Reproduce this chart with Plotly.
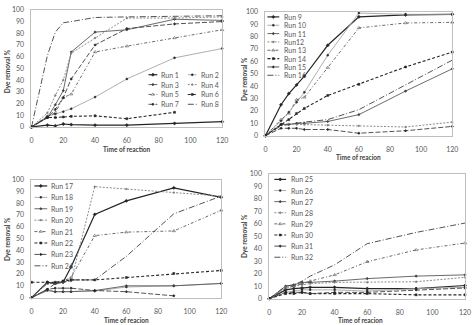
import plotly.graph_objects as go

# ---------------- data ----------------
times = [0, 10, 15, 20, 25, 40, 60, 90, 120]

run_1 = [0, 1.5, 1, 2.5, 2, 1.5, 1.5, 3, 4.5]
run_2 = [0, 9, 11, 13, 15.5, 25.5, 41, 59, 67]
run_3 = [0, 8, 19, 31, 64, 81, 83, 92, 91]
run_4 = [0, 12, 27, 40, 63, 76, 93, 93, 94]
run_5 = [0, 9, 12, 25, 28, 64, 69, 76, 83]
run_6 = [0, 8, 8, 8.5, 9, 9.5, 7, 12.5, None]
run_7 = [0, 8, 15, 25, 41, 70, 84, 88, 90]
run_8 = [0, 61, 81, 89, 90, 93.5, 94, 94.5, 95]

run_9 = [0, 25, 34, 41, 48, 73, 96, 97.5, 98]
run_10 = [0, 12, 19, 27, 35, 65, 99, 98, 98]
run_11 = [0, 9, 9, 10, 10, 11.5, 17, 36, 54]
run_12 = [0, 9.5, 9.5, 9, 9, 8.5, 8, 7, 11]
run_13 = [0, 13, 18, 29, 31, 55, 87, 91, 91.5]
run_14 = [0, 9, 13, 18, 22, 32.5, 41.5, 55.5, 67.5]
run_15 = [0, 6, 6, 6, 5, 5, 2, 4, 7.5]
run_16 = [0, 8, 9, 10, 11, 13, 21, 41, 61]

run_17 = [0, 13, 12, 13, 26, 70.5, 82, 93, 85]
run_18 = [0, 7, 5, 5, 5, 5.5, 9, 10, 12]
run_19 = [0, 6, 5, 5, 5, 6, 10, 10, 12]
run_20 = [0, 12, 12, 13, 14, 94, 92, 89, 86]
run_21 = [0, 12, 12, 14, 17, 52.5, 55.5, 56.5, 74]
run_22 = [13, 13, 13, 14, 15, 15, 17, 20.5, 23]
run_23 = [0, 7, 8, 8, 8, 6, 5, 1.5, None]
run_24 = [0, 7, 12, 13, 15, 15, 35, 71, 86]

run_25 = [0, 7, 8, 8.5, 9, 9, 8, 8, 10.5]
run_26 = [0, 5, 6, 7, 7, 7, 6, 8, 9]
run_27 = [0, 10, 11, 13, 13, 14, 16, 18, 19]
run_28 = [0, 9, 10, 11, 12, 13, 13, 13.5, 17]
run_29 = [0, 8, 10, 12, 14, 19, 29.5, 39, 44.5]
run_30 = [0, 4, 4, 5, 4, 4, 4, 3, 3]
run_31 = [0, 5, 5, 5, 4, 5, 5, 7, 8.5]
run_32 = [0, 10, 11, 14, 18, 27, 44, 53, 60.5]

names_1 = ["Run 1", "Run 2", "Run 3", "Run 4", "Run 5", "Run 6", "Run 7", "Run 8"]
names_2 = ["Run 9", "Run 10", "Run 11", "Run12", "Run 13", "Run 14", "Run 15", "Run 16"]
names_3 = ["Run 17", "Run 18", "Run 19", "Run 20", "Run 21", "Run 22", "Run 23", "Run 24"]
names_4 = ["Run 25", "Run 26", "Run 27", "Run 28", "Run 29", "Run 30", "Run 31", "Run 32"]

series_1 = [run_1, run_2, run_3, run_4, run_5, run_6, run_7, run_8]
series_2 = [run_9, run_10, run_11, run_12, run_13, run_14, run_15, run_16]
series_3 = [run_17, run_18, run_19, run_20, run_21, run_22, run_23, run_24]
series_4 = [run_25, run_26, run_27, run_28, run_29, run_30, run_31, run_32]

x_ticks = [0, 20, 40, 60, 80, 100, 120]
y_ticks = [0, 10, 20, 30, 40, 50, 60, 70, 80, 90, 100]

# ---------------- styles ----------------
W, H = 473, 325
FONT = "Lato"
styles = [
    dict(color="#262626", dash="solid", width=1.2, symbol="diamond", msize=2.5, mcolor="#262626"),
    dict(color="#a6a6a6", dash="solid", width=0.9, symbol="circle", msize=2, mcolor="#262626"),
    dict(color="#595959", dash="solid", width=0.9, symbol="diamond", msize=2, mcolor="#404040"),
    dict(color="#7f7f7f", dash="2px,1.5px", width=0.9, symbol="circle", msize=1.8, mcolor="#7f7f7f"),
    dict(color="#595959", dash="3px,2px,1px,2px", width=0.9, symbol="triangle-up-open", msize=3, mcolor="#404040"),
    dict(color="#262626", dash="3px,2px", width=1.1, symbol="square", msize=2, mcolor="#262626"),
    dict(color="#404040", dash="5px,2px", width=0.9, symbol="diamond", msize=2, mcolor="#262626"),
    dict(color="#404040", dash="6px,2px,1px,2px", width=0.9, symbol=None, msize=0, mcolor="#404040"),
]

# panel layout in pixels: plot box (left, top, right, bottom)
panels = [
    dict(box=(30, 5, 224, 125), names=names_1, series=series_1, xtitle="Time of reaction",
         ytitle_pos=(5, 68), xtitle_pos=(127, 148),
         legend=dict(cols=2, x0=[149, 189], len=9, y0=71.5, dy=10.1, tx=2)),
    dict(box=(268, 7, 458, 134), names=names_2, series=series_2, xtitle="Time of reacion",
         ytitle_pos=(246, 76), xtitle_pos=(363, 156),
         legend=dict(cols=1, x0=[270], len=12, y0=12.2, dy=8.55, tx=3)),
    dict(box=(30, 179, 223, 300), names=names_3, series=series_3, xtitle="Time of reacion",
         ytitle_pos=(5, 240), xtitle_pos=(127, 323),
         legend=dict(cols=1, x0=[33], len=13, y0=185.5, dy=11.7, tx=2)),
    dict(box=(272, 173, 471, 301), names=names_4, series=series_4, xtitle="Time of reacion",
         ytitle_pos=(246, 237), xtitle_pos=(365, 323),
         legend=dict(cols=1, x0=[277], len=12, y0=178.8, dy=11.4, tx=2.5)),
]

fig = go.Figure()
layout_axes = {}
annotations = []


def marker_for(st):
    return dict(symbol=st["symbol"], size=st["msize"], color=st["mcolor"],
                line=dict(width=0.5, color=st["mcolor"]))


for k, p in enumerate(panels):
    idx = "" if k == 0 else str(k + 1)
    xa, ya = "x" + idx, "y" + idx
    l, t, r, b = p["box"]
    for name, vals, st in zip(p["names"], p["series"], styles):
        mode = "lines+markers" if st["symbol"] else "lines"
        fig.add_trace(go.Scatter(
            x=times, y=vals, name=name, mode=mode, xaxis=xa, yaxis=ya,
            line=dict(color=st["color"], dash=st["dash"], width=st["width"]),
            marker=marker_for(st) if st["symbol"] else None,
            connectgaps=False, cliponaxis=False, showlegend=False))
    axcommon = dict(showline=True, linecolor="#bfbfbf", linewidth=1, mirror=True,
                    showgrid=False, zeroline=False, ticks="",
                    tickfont=dict(family=FONT, size=7, color="#595959"),
                    fixedrange=True)
    layout_axes["xaxis" + idx] = dict(axcommon, domain=[l / W, r / W], range=[0, 120],
                                      tickvals=x_ticks, anchor=ya, ticklabelstandoff=7)
    layout_axes["yaxis" + idx] = dict(axcommon, domain=[1 - b / H, 1 - t / H], range=[0, 100],
                                      tickvals=y_ticks, anchor=xa, ticklabelstandoff=5)
    # axis titles
    yx, yy = p["ytitle_pos"]
    annotations.append(dict(text="<b>Dye removal %</b>", x=yx, y=yy, xref="x5", yref="y5",
                            showarrow=False, textangle=-90, xanchor="center", yanchor="middle",
                            font=dict(family=FONT, size=6.5, color="#404040")))
    tx_, ty_ = p["xtitle_pos"]
    annotations.append(dict(text="<b>" + p["xtitle"] + "</b>", x=tx_, y=ty_, xref="x5", yref="y5",
                            showarrow=False, xanchor="center", yanchor="middle",
                            font=dict(family=FONT, size=6.5, color="#404040")))
    # manual legend
    lg = p["legend"]
    for i, (name, st) in enumerate(zip(p["names"], styles)):
        if lg["cols"] == 2:
            row, col = i // 2, i % 2
        else:
            row, col = i, 0
        ry = lg["y0"] + row * lg["dy"]
        lx0 = lg["x0"][col]
        lx1 = lx0 + lg["len"]
        fig.add_trace(go.Scatter(
            x=[lx0, lx1], y=[ry, ry], mode="lines", xaxis="x5", yaxis="y5",
            line=dict(color=st["color"], dash=st["dash"], width=st["width"]),
            showlegend=False, hoverinfo="skip", cliponaxis=False))
        if st["symbol"]:
            fig.add_trace(go.Scatter(
                x=[(lx0 + lx1) / 2], y=[ry], mode="markers", xaxis="x5", yaxis="y5",
                marker=marker_for(st), showlegend=False, hoverinfo="skip", cliponaxis=False))
        annotations.append(dict(text=name, x=lx1 + lg["tx"], y=ry, xref="x5", yref="y5",
                                showarrow=False, xanchor="left", yanchor="middle",
                                font=dict(family=FONT, size=7, color="#595959")))

layout_axes["xaxis5"] = dict(domain=[0, 1], range=[0, W], visible=False, anchor="y5", fixedrange=True)
layout_axes["yaxis5"] = dict(domain=[0, 1], range=[H, 0], visible=False, anchor="x5", fixedrange=True)

fig.update_layout(
    width=W, height=H, margin=dict(l=0, r=0, t=0, b=0),
    paper_bgcolor="white", plot_bgcolor="rgba(0,0,0,0)",
    showlegend=False, annotations=annotations,
    font=dict(family=FONT, size=7, color="#404040"),
    **layout_axes)

fig.write_html("out.html")
